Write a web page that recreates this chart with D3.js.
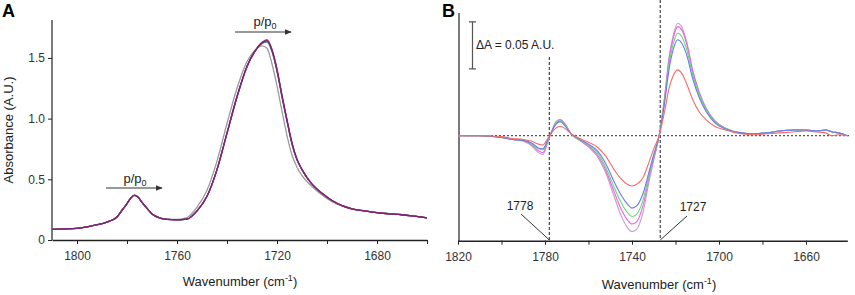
<!DOCTYPE html>
<meta charset="utf-8">
<script src="https://cdn.jsdelivr.net/npm/d3@7"></script>
<style>
  body { margin: 0; background: #fff; }
  svg { font-family: "Liberation Sans", Arial, sans-serif; }
  .tick text { fill: #333; font-size: 12px; }
  .domain, .tick line { stroke: #222; }
</style>
<body>
<script>

var width = 855
var height = 295

// panel A - absorbance spectra
var wnA = [1810, 1800, 1795, 1790, 1787, 1784, 1782, 1780, 1778.5, 1777, 1775.5, 1774, 1772, 1770, 1767, 1764, 1760, 1756, 1752, 1748, 1744, 1740, 1736, 1732, 1729, 1726, 1724, 1722, 1720, 1718, 1716, 1714, 1712, 1710, 1706, 1702, 1698, 1694, 1690, 1685, 1680, 1675, 1670, 1665, 1660]
var absGray   = [0.088, 0.096, 0.113, 0.135, 0.155, 0.19, 0.245, 0.30, 0.345, 0.367, 0.35, 0.31, 0.26, 0.215, 0.183, 0.172, 0.17, 0.185, 0.27, 0.41, 0.65, 0.96, 1.25, 1.47, 1.56, 1.60, 1.58, 1.45, 1.27, 1.06, 0.86, 0.70, 0.60, 0.53, 0.44, 0.37, 0.315, 0.28, 0.255, 0.238, 0.224, 0.215, 0.207, 0.196, 0.183]
var absTeal   = [0.088, 0.096, 0.113, 0.135, 0.155, 0.19, 0.245, 0.30, 0.345, 0.368, 0.35, 0.31, 0.26, 0.215, 0.183, 0.17, 0.166, 0.172, 0.24, 0.36, 0.58, 0.88, 1.18, 1.43, 1.55, 1.62, 1.63, 1.55, 1.39, 1.18, 0.98, 0.79, 0.66, 0.58, 0.46, 0.385, 0.325, 0.283, 0.257, 0.24, 0.225, 0.216, 0.208, 0.196, 0.183]
var absBlue   = [0.088, 0.096, 0.113, 0.135, 0.155, 0.19, 0.245, 0.30, 0.345, 0.368, 0.35, 0.31, 0.26, 0.215, 0.183, 0.17, 0.166, 0.172, 0.24, 0.36, 0.58, 0.88, 1.18, 1.43, 1.55, 1.62, 1.64, 1.56, 1.40, 1.18, 0.98, 0.79, 0.66, 0.58, 0.46, 0.385, 0.325, 0.283, 0.257, 0.24, 0.225, 0.216, 0.208, 0.196, 0.183]
var absPurple = [0.088, 0.096, 0.113, 0.135, 0.155, 0.19, 0.245, 0.30, 0.345, 0.37, 0.352, 0.31, 0.26, 0.215, 0.183, 0.17, 0.166, 0.172, 0.24, 0.36, 0.58, 0.88, 1.18, 1.43, 1.55, 1.625, 1.645, 1.565, 1.40, 1.19, 0.99, 0.80, 0.665, 0.58, 0.46, 0.385, 0.325, 0.283, 0.257, 0.24, 0.225, 0.216, 0.208, 0.196, 0.183]
var absRed    = [0.088, 0.096, 0.113, 0.135, 0.155, 0.19, 0.245, 0.30, 0.345, 0.37, 0.352, 0.31, 0.26, 0.215, 0.183, 0.17, 0.166, 0.172, 0.24, 0.36, 0.58, 0.88, 1.18, 1.43, 1.55, 1.63, 1.65, 1.57, 1.41, 1.19, 0.99, 0.80, 0.665, 0.58, 0.46, 0.385, 0.325, 0.283, 0.257, 0.24, 0.225, 0.216, 0.208, 0.196, 0.183]
var yTicksA = [0, 0.5, 1.0, 1.5]
var xLabelsA = [1800, 1760, 1720, 1680]

// panel B - difference spectra
var wnB = [1820, 1810, 1800, 1795, 1790, 1786, 1783, 1781, 1779, 1777, 1775, 1773, 1771, 1768, 1764, 1760, 1756, 1752, 1748, 1745, 1742, 1740, 1738, 1735, 1732, 1730, 1727.5, 1725, 1723, 1721, 1719, 1717, 1715, 1712, 1709, 1706, 1702, 1697, 1690, 1684, 1678, 1672, 1666, 1660, 1655, 1651, 1648, 1645, 1641]
var dRed     = [0, 0, -0.001, -0.003, -0.004, -0.006, -0.009, -0.010, -0.004, 0.003, 0.008, 0.010, 0.008, 0.002, -0.003, -0.007, -0.012, -0.022, -0.037, -0.046, -0.052, -0.0535, -0.052, -0.045, -0.027, -0.014, 0, 0.026, 0.050, 0.064, 0.070, 0.066, 0.056, 0.038, 0.025, 0.017, 0.010, 0.006, 0.002, 0.001, 0.002, 0.003, 0.004, 0.005, 0.004, 0.003, 0, 0.001, 0]
var dBlue    = [0, 0, -0.002, -0.004, -0.005, -0.008, -0.013, -0.014, -0.006, 0.004, 0.012, 0.015, 0.011, 0.002, -0.004, -0.009, -0.016, -0.030, -0.050, -0.063, -0.073, -0.077, -0.075, -0.062, -0.037, -0.020, 0, 0.035, 0.070, 0.092, 0.102, 0.098, 0.087, 0.060, 0.040, 0.026, 0.014, 0.007, 0.003, 0.002, 0.003, 0.005, 0.006, 0.006, 0.005, 0.006, 0.004, 0.003, 0]
var dGreen   = [0, 0, -0.002, -0.004, -0.005, -0.009, -0.014, -0.015, -0.007, 0.004, 0.013, 0.016, 0.012, 0.002, -0.005, -0.010, -0.018, -0.034, -0.056, -0.071, -0.082, -0.086, -0.084, -0.069, -0.040, -0.022, 0, 0.038, 0.075, 0.098, 0.109, 0.105, 0.093, 0.064, 0.043, 0.028, 0.015, 0.008, 0.003, 0.002, 0.003, 0.005, 0.006, 0.006, 0.005, 0.006, 0.004, 0.003, 0]
var dMagenta = [0, 0, -0.002, -0.004, -0.005, -0.010, -0.016, -0.018, -0.008, 0.004, 0.014, 0.017, 0.013, 0.002, -0.005, -0.011, -0.020, -0.037, -0.061, -0.078, -0.090, -0.094, -0.092, -0.075, -0.043, -0.024, 0, 0.040, 0.080, 0.104, 0.116, 0.112, 0.099, 0.068, 0.045, 0.029, 0.016, 0.008, 0.003, 0.002, 0.003, 0.005, 0.006, 0.006, 0.005, 0.006, 0.004, 0.003, 0]
var dViolet  = [0, 0, -0.002, -0.004, -0.006, -0.011, -0.018, -0.020, -0.009, 0.004, 0.015, 0.0175, 0.013, 0.002, -0.005, -0.012, -0.022, -0.040, -0.066, -0.085, -0.098, -0.102, -0.100, -0.082, -0.047, -0.026, 0, 0.042, 0.083, 0.107, 0.1196, 0.115, 0.101, 0.069, 0.046, 0.030, 0.016, 0.008, 0.003, 0.002, 0.003, 0.005, 0.006, 0.006, 0.005, 0.006, 0.004, 0.003, 0]
var xLabelsB = [1820, 1780, 1740, 1700, 1660]
var markB = [1778, 1727]
var scaleBar = [0.121, 0.071]   // 0.05 A.U.

var svg = d3.select("body").append("svg")
            .attr("width", width)
            .attr("height", height)

// ---------- panel A ----------
var xA = d3.scaleLinear().domain([1810, 1660]).range([52, 427])
var yA = d3.scaleLinear().domain([0, 1.8]).range([240, 21.5])

var gA = svg.append("g")

gA.append("g")
  .attr("transform", "translate(0,240)")
  .call(d3.axisBottom(xA).tickValues(d3.range(1800, 1659, -20)).tickSize(4).tickSizeOuter(0)
        .tickFormat(d => xLabelsA.includes(d) ? d : ""))
  .call(g => g.selectAll(".tick text").attr("dy", "1.1em"))
  .call(g => g.select(".domain").attr("stroke-width", 1.5))

gA.append("g")
  .attr("transform", "translate(52,0)")
  .call(d3.axisLeft(yA).tickValues(yTicksA).tickSize(4).tickSizeOuter(0)
        .tickFormat(d => d === 0 ? "0" : d3.format(".1f")(d)))
  .call(g => g.select(".domain").attr("d", "M0,20V240").attr("stroke-width", 1.2))

var seriesA = [
  {v: absGray, c: "#9a9a9a"},
  {v: absTeal, c: "#3a9a8c"},
  {v: absBlue, c: "#3546a8"},
  {v: absRed, c: "#d23a58"},
  {v: absPurple, c: "#7a2378"}
]
var lineA = d3.line().x((d, i) => xA(wnA[i])).y(d => yA(d)).curve(d3.curveMonotoneX)
gA.selectAll(".specA").data(seriesA).join("path")
  .attr("class", "specA")
  .attr("d", d => lineA(d.v))
  .attr("fill", "none")
  .attr("stroke", d => d.c)
  .attr("stroke-width", 1.3)

// arrows p/p0
svg.append("defs").append("marker")
  .attr("id", "arr").attr("viewBox", "0 0 10 10").attr("refX", 9).attr("refY", 5)
  .attr("markerWidth", 6).attr("markerHeight", 6).attr("orient", "auto")
  .append("path").attr("d", "M0,1L10,5L0,9Z").attr("fill", "#333")

function ppArrow(cx, ty, ay, x1, x2) {
  var t = gA.append("text").attr("x", cx).attr("y", ty).attr("text-anchor", "middle")
            .attr("font-size", 13).attr("fill", "#222")
  t.append("tspan").text("p/p")
  t.append("tspan").attr("font-size", 9).attr("dy", 3).text("0")
  gA.append("line").attr("x1", x1).attr("x2", x2).attr("y1", ay).attr("y2", ay)
    .attr("stroke", "#333").attr("stroke-width", 1.2).attr("marker-end", "url(#arr)")
}
ppArrow(265, 26, 32, 235, 291)
ppArrow(135, 183, 188, 106, 162)

gA.append("text").attr("x", 240).attr("y", 286).attr("text-anchor", "middle")
  .attr("font-size", 13).attr("fill", "#222")
  .call(t => { t.append("tspan").text("Wavenumber (cm"); t.append("tspan").attr("font-size", 9).attr("dy", -5).text("-1"); t.append("tspan").attr("dy", 5).text(")") })

gA.append("text").attr("transform", "translate(13,130) rotate(-90)").attr("text-anchor", "middle")
  .attr("font-size", 13).attr("fill", "#222").text("Absorbance (A.U.)")

svg.append("text").attr("x", 2).attr("y", 17).attr("font-size", 18).attr("font-weight", "bold").text("A")

// ---------- panel B ----------
var xB = d3.scaleLinear().domain([1820, 1641]).range([458, 847.3])
var yB = d3.scaleLinear().domain([-0.1117, 0.1305]).range([240.7, 13])

var gB = svg.append("g")

gB.append("g")
  .attr("transform", "translate(0,240.7)")
  .call(d3.axisBottom(xB).tickValues(d3.range(1820, 1640, -20)).tickSize(4).tickSizeOuter(0)
        .tickFormat(d => xLabelsB.includes(d) ? d : ""))
  .call(g => g.selectAll(".tick text").attr("dy", "1.1em"))
  .call(g => g.select(".domain").attr("stroke-width", 1.5))

gB.append("line").attr("x1", 459).attr("x2", 459).attr("y1", 13).attr("y2", 241)
  .attr("stroke", "#222").attr("stroke-width", 1.2)

// zero line and marker lines
gB.append("line").attr("x1", 459).attr("x2", 851).attr("y1", yB(0)).attr("y2", yB(0))
  .attr("stroke", "#555").attr("stroke-width", 1.2).attr("stroke-dasharray", "2,2")
gB.append("line").attr("x1", xB(markB[0])).attr("x2", xB(markB[0])).attr("y1", 57).attr("y2", 240)
  .attr("stroke", "#444").attr("stroke-width", 1.2).attr("stroke-dasharray", "3,2")
gB.append("line").attr("x1", xB(markB[1])).attr("x2", xB(markB[1])).attr("y1", 0).attr("y2", 240)
  .attr("stroke", "#444").attr("stroke-width", 1.2).attr("stroke-dasharray", "3,2")

var seriesB = [
  {v: dViolet, c: "#c89ac8"},
  {v: dMagenta, c: "#f45cf0"},
  {v: dGreen, c: "#5ee070"},
  {v: dBlue, c: "#6a78f4"},
  {v: dRed, c: "#f86a6a"}
]
var lineB = d3.line().x((d, i) => xB(wnB[i])).y(d => yB(d)).curve(d3.curveMonotoneX)
gB.selectAll(".specB").data(seriesB).join("path")
  .attr("class", "specB")
  .attr("d", d => lineB(d.v))
  .attr("fill", "none")
  .attr("stroke", d => d.c)
  .attr("stroke-width", 1.1)

// scale bar 0.05 A.U.
var sbTop = yB(scaleBar[0])
var sbBot = yB(scaleBar[1])
gB.append("path")
  .attr("d", "M469," + sbTop + "H476M472.5," + sbTop + "V" + sbBot + "M469," + sbBot + "H476")
  .attr("stroke", "#555").attr("stroke-width", 1.2).attr("fill", "none")
gB.append("text").attr("x", 476).attr("y", 49).attr("font-size", 12).attr("fill", "#222").text("\u0394A = 0.05 A.U.")

// 1778 / 1727 labels with leader lines
gB.append("text").attr("x", 520).attr("y", 210).attr("text-anchor", "middle").attr("font-size", 12).attr("fill", "#222").text(markB[0])
gB.append("line").attr("x1", 521).attr("y1", 214).attr("x2", xB(markB[0])).attr("y2", 240).attr("stroke", "#333")
gB.append("text").attr("x", 693).attr("y", 211).attr("text-anchor", "middle").attr("font-size", 12).attr("fill", "#222").text(markB[1])
gB.append("line").attr("x1", 687).attr("y1", 216).attr("x2", xB(markB[1])).attr("y2", 240).attr("stroke", "#333")

gB.append("text").attr("x", 659).attr("y", 289).attr("text-anchor", "middle")
  .attr("font-size", 13).attr("fill", "#222")
  .call(t => { t.append("tspan").text("Wavenumber (cm"); t.append("tspan").attr("font-size", 9).attr("dy", -5).text("-1"); t.append("tspan").attr("dy", 5).text(")") })

svg.append("text").attr("x", 442).attr("y", 17).attr("font-size", 18).attr("font-weight", "bold").text("B")

</script>
</body>
